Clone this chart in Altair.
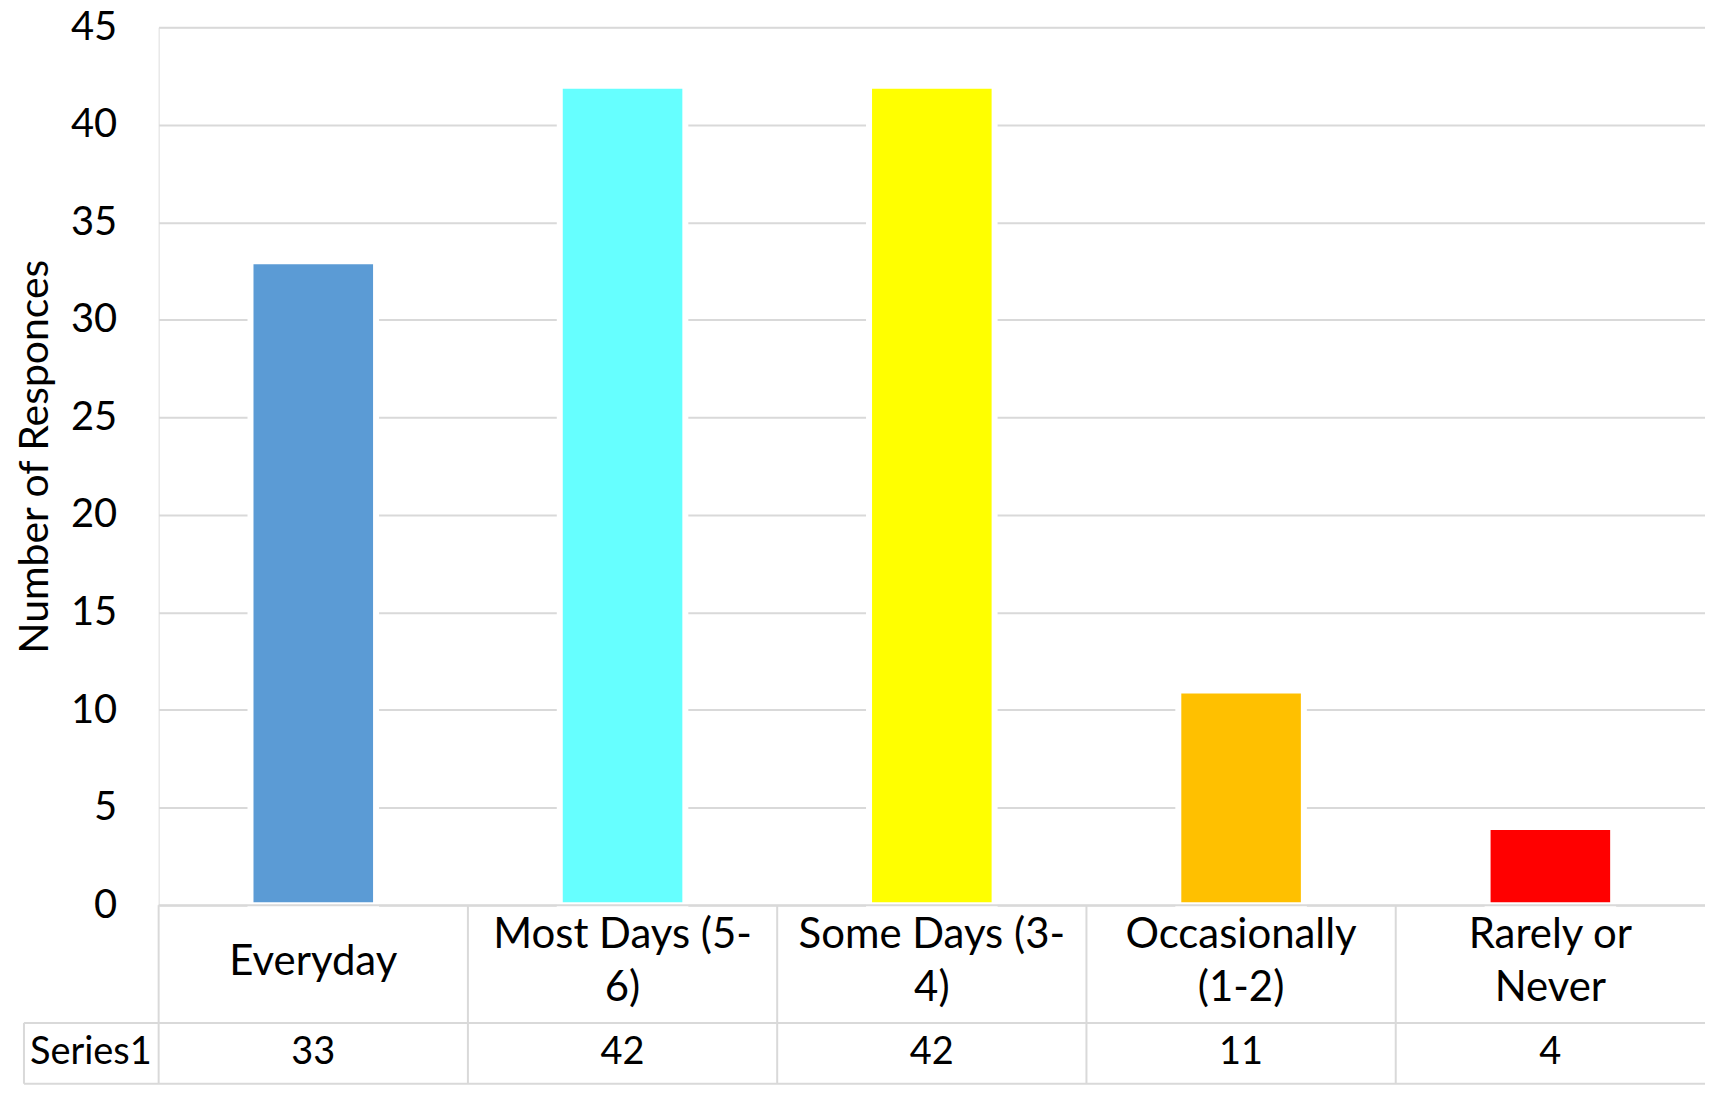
import altair as alt
import pandas as pd

categories = ["Everyday", "Most Days (5-\n6)", "Some Days (3-\n4)", "Occasionally\n(1-2)", "Rarely or\nNever"]
values = [33, 42, 42, 11, 4]
colors = ["#5B9BD5", "#66FFFF", "#FFFF00", "#FFC000", "#FF0000"]
series_name = "Series1"
y_ticks = [0, 5, 10, 15, 20, 25, 30, 35, 40, 45]
y_title = "Number of Responces"

W, H = 1550, 880
FONT = "Lato"
GRID = "#d9d9d9"

df = pd.DataFrame({"cat": categories, "value": values})
one = pd.DataFrame({"k": [0]})

xenc = alt.X("cat:N", sort=categories, scale=alt.Scale(paddingInner=0, paddingOuter=0), axis=None)

bars = alt.Chart(df).mark_bar(width=alt.RelativeBandSize(0.406), stroke="white", strokeWidth=6).encode(
    x=xenc,
    y=alt.Y("value:Q", scale=alt.Scale(domain=[0, 45], nice=False),
            axis=alt.Axis(values=y_ticks, grid=True, gridColor=GRID, gridWidth=2, domain=False,
                          ticks=False, tickSize=0, labelFontSize=40, labelFont=FONT, labelPadding=42,
                          labelColor="#000000", title=y_title, titleFontSize=41, titleFont=FONT,
                          titleFontWeight="normal", titleColor="#000000", titleX=-111, titleY=430,
                          titleAngle=270, titleBaseline="alphabetic", titleAlign="center")),
    color=alt.Color("cat:N", scale=alt.Scale(domain=categories, range=colors), legend=None),
)

# table verticals at band boundaries
vlines = alt.Chart(df).mark_rule(color=GRID, strokeWidth=2).encode(
    x=alt.X("cat:N", sort=categories, bandPosition=0, scale=alt.Scale(paddingInner=0, paddingOuter=0), axis=None),
    y=alt.value(H), y2=alt.value(1059),
)

hline_top = alt.Chart(one).mark_rule(color=GRID, strokeWidth=2).encode(
    x=alt.value(0), x2=alt.value(W), y=alt.value(H))
hline_mid = alt.Chart(one).mark_rule(color=GRID, strokeWidth=2).encode(
    x=alt.value(-135), x2=alt.value(W), y=alt.value(998))
hline_bot = alt.Chart(one).mark_rule(color=GRID, strokeWidth=2).encode(
    x=alt.value(-135), x2=alt.value(W), y=alt.value(1059))
vline_left = alt.Chart(one).mark_rule(color=GRID, strokeWidth=2).encode(
    x=alt.value(-135), y=alt.value(998), y2=alt.value(1059))

text_style = dict(lineBreak="\n", fontSize=42, font=FONT, baseline="middle",
                  align="center", lineHeight=53, color="#000000")

cat_text_single = alt.Chart(df).transform_filter(
    "indexof(datum.cat, '\\n') < 0").mark_text(**text_style).encode(
    x=xenc, y=alt.value(937), text="cat:N")

cat_text_double = alt.Chart(df).transform_filter(
    "indexof(datum.cat, '\\n') >= 0").mark_text(**text_style).encode(
    x=xenc, y=alt.value(910), text="cat:N")

val_text = alt.Chart(df).mark_text(fontSize=38, font=FONT, baseline="middle", align="center",
                                   color="#000000").encode(
    x=xenc, y=alt.value(1028), text=alt.Text("value:Q"))

series_text = alt.Chart(pd.DataFrame({"s": [series_name]})).mark_text(
    fontSize=38, font=FONT, baseline="middle", align="left", color="#000000").encode(
    x=alt.value(-129), y=alt.value(1028), text="s:N")

chart = alt.layer(bars, vlines, hline_top, hline_mid, hline_bot, vline_left,
                  cat_text_single, cat_text_double, val_text, series_text).properties(
    width=W, height=H,
    autosize=alt.AutoSizeParams(type="none"),
    padding={"left": 151, "top": 18, "right": 0, "bottom": 185},
).configure_view(stroke=None).configure(background="white")

chart.save("out.html", embed_options={"renderer": "svg", "actions": False})
